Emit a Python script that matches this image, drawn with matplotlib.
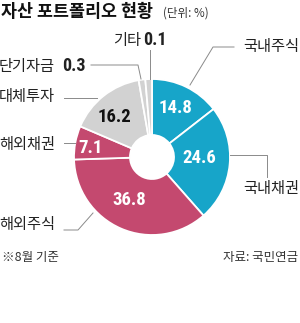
import matplotlib
matplotlib.use("Agg")
import matplotlib.pyplot as plt
import numpy as np
from matplotlib import font_manager

plt.rcParams['font.family'] = ['Noto Sans CJK KR', 'DejaVu Sans']

# Data
categories = ['국내주식', '국내채권', '해외주식', '해외채권', '대체투자', '단기자금', '기타']
values = [14.8, 24.6, 36.8, 7.1, 16.2, 0.3, 0.1]
colors = ['#17A5C9', '#17A5C9', '#C4496F', '#C4496F', '#D2D2D2', '#D2D2D2', '#D2D2D2']
title = '자산 포트폴리오 현황'
unit = '(단위: %)'
note = '※8월 기준'
source = '자료: 국민연금'

# small slices are drawn at a minimum visible size, as in the original graphic
display = np.maximum(np.array(values), 1.4)

names = {f.name for f in font_manager.fontManager.ttflist}
numfont, nfs = 'Liberation Sans', 12.5
for cand, size in [('Roboto Condensed', 13.5), ('Archivo Narrow', 13.5),
                   ('Liberation Sans Narrow', 13.5), ('PT Sans Narrow', 14),
                   ('Fira Sans Condensed', 13)]:
    if cand in names:
        numfont, nfs = cand, size
        break

W, H = 300, 323
fig = plt.figure(figsize=(W / 100, H / 100), dpi=100)
ax = fig.add_axes([0, 0, 1, 1])

cx, cy, R = 152, H - 157, 78
wedges, _ = ax.pie(display, colors=colors, startangle=90, counterclock=False,
                   center=(cx, cy), radius=R,
                   wedgeprops=dict(width=R - 22, edgecolor='white', linewidth=1.3))
ax.set_xlim(0, W)
ax.set_ylim(0, H)
ax.set_aspect('equal')
ax.axis('off')

def Y(y):
    return H - y

# inner value labels
inner = {0: (175, 108, 'white'), 1: (199, 158, 'white'), 2: (129, 200, 'white'),
         3: (91, 148, 'white'), 4: (114, 117, '#111111')}
for i, (x, y, c) in inner.items():
    ax.text(x, Y(y), f'{values[i]:.1f}', color=c, fontsize=nfs, fontweight='bold',
            family=numfont, ha='center', va='center')

lc = '#8a8a8a'
lw = 0.7
# leader lines
ax.plot([150, 150], [Y(50), Y(79)], color=lc, lw=lw)
ax.plot([91, 138, 141], [Y(65), Y(65), Y(79)], color=lc, lw=lw)
ax.plot([64, 97], [Y(98), Y(98)], color=lc, lw=lw)
ax.plot([64, 75], [Y(143), Y(143)], color=lc, lw=lw)
ax.plot([64, 78, 93], [Y(230), Y(230), Y(213)], color=lc, lw=lw)
ax.plot([234, 213, 190], [Y(47), Y(47), Y(85)], color=lc, lw=lw)
ax.plot([230, 267, 267], [Y(155), Y(155), Y(177)], color=lc, lw=lw)

lfs = 11
tc = '#222222'
# outer labels
ax.text(141, Y(40), categories[6], fontsize=lfs, ha='right', va='center', color=tc)
ax.text(143, Y(40), f'{values[6]}', fontsize=nfs - 0.5, fontweight='bold', family=numfont,
        ha='left', va='center', color=tc)
ax.text(-1, Y(66), categories[5], fontsize=lfs, ha='left', va='center', color=tc)
ax.text(62, Y(66), f'{values[5]}', fontsize=nfs - 0.5, fontweight='bold', family=numfont,
        ha='left', va='center', color=tc)
ax.text(-1, Y(97), categories[4], fontsize=lfs, ha='left', va='center', color=tc)
ax.text(-1, Y(145), categories[3], fontsize=lfs, ha='left', va='center', color=tc)
ax.text(-1, Y(225), categories[2], fontsize=lfs, ha='left', va='center', color=tc)
ax.text(299, Y(46), categories[0], fontsize=lfs, ha='right', va='center', color=tc)
ax.text(299, Y(189), categories[1], fontsize=lfs, ha='right', va='center', color=tc)

# title
ax.text(1, Y(12), title, fontsize=12.5, fontweight='heavy', ha='left', va='center', color='#111111')
ax.text(163, Y(13), unit, fontsize=8.3, ha='left', va='center', color='#333333')

# footer
ax.text(2, Y(258), note, fontsize=9, ha='left', va='center', color='#333333')
ax.text(298, Y(258), source, fontsize=9, ha='right', va='center', color='#333333')

fig.savefig('out.png', dpi=100, facecolor='white')
